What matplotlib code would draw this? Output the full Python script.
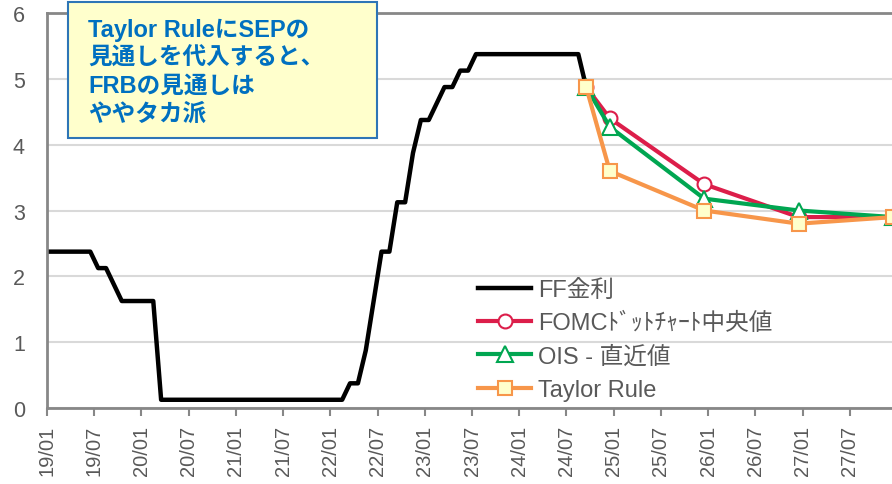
import numpy as np
import matplotlib.pyplot as plt
from matplotlib.patches import Rectangle

plt.rcParams['font.family'] = ['Liberation Sans', 'Noto Sans CJK JP', 'DejaVu Sans']

# FF rate, month-end midpoint, 2019/01 .. 2024/09
ff_start = "2019-01"
ff_rate = ([2.375] * 6 + [2.125, 2.125, 1.875, 1.625, 1.625, 1.625]
           + [1.625, 1.625] + [0.125] * 10
           + [0.125] * 12
           + [0.125, 0.125, 0.375, 0.375, 0.875, 1.625, 2.375, 2.375, 3.125, 3.125, 3.875, 4.375]
           + [4.375, 4.625, 4.875, 4.875, 5.125, 5.125] + [5.375] * 6
           + [5.375] * 8 + [4.875])

proj_dates = ["2024-09", "2024-12", "2025-12", "2026-12", "2027-12"]
fomc_dots = [4.875, 4.4, 3.4, 2.9, 2.9]
ois_latest = [4.875, 4.27, 3.18, 3.0, 2.9]
taylor_rule = [4.875, 3.6, 3.0, 2.8, 2.9]

tick_labels = ["19/01", "19/07", "20/01", "20/07", "21/01", "21/07", "22/01", "22/07",
               "23/01", "23/07", "24/01", "24/07", "25/01", "25/07", "26/01", "26/07",
               "27/01", "27/07"]

series_names = ["FF金利", "FOMCﾄﾞｯﾄﾁｬｰﾄ中央値", "OIS - 直近値", "Taylor Rule"]
note = "Taylor RuleにSEPの\n見通しを代入すると、\nFRBの見通しは\nややタカ派"


def month_index(s):
    y, m = s.split("-")
    return (int(y) - 2019) * 12 + int(m) - 1


# month-end values sit in the middle of each month slot
ff_x = month_index(ff_start) + np.arange(len(ff_rate)) + 0.5
proj_x = np.array([month_index(d) for d in proj_dates]) + 0.5

W, H = 892, 485
fig = plt.figure(figsize=(W / 100, H / 100), dpi=100)
ax = fig.add_axes([47 / W, 76 / H, 854 / W, 395 / H])

gray = "#878787"
text_gray = "#595959"

ax.plot(ff_x, ff_rate, color="black", lw=3.2, label=series_names[0], zorder=3)
ax.plot(proj_x, fomc_dots, color="#DC1E4A", lw=3, marker="o", ms=10,
        mfc="white", mec="#DC1E4A", mew=1.5, label=series_names[1], zorder=4)
ax.plot(proj_x, ois_latest, color="#00A651", lw=3, marker="^", ms=11,
        mfc="white", mec="#00A651", mew=1.5, label=series_names[2], zorder=5)
ax.plot(proj_x, taylor_rule, color="#F7964A", lw=3, marker="s", ms=10,
        mfc="#FFFFCC", mec="#F7964A", mew=1.5, label=series_names[3], zorder=6)

ax.set_xlim(0, 108.5)
ax.set_ylim(0, 6)
ax.set_xticks(np.arange(len(tick_labels)) * 6)
ax.set_xticklabels(tick_labels, rotation=90, fontsize=14.5, color=text_gray)
ax.set_yticks(range(7))
ax.set_yticklabels([str(v) for v in range(7)], fontsize=15.5, color=text_gray)
ax.tick_params(axis="x", length=6, width=1.5, color=gray, pad=6)
ax.tick_params(axis="y", length=0, pad=16)

ax.grid(axis="y", color="#D9D9D9", lw=1.5)
ax.set_axisbelow(True)
for side in ["left", "bottom", "top"]:
    ax.spines[side].set_color(gray)
    ax.spines[side].set_linewidth(2)
ax.spines["right"].set_visible(False)

leg = ax.legend(loc="upper left", bbox_to_anchor=(478 / W, 205 / H),
                bbox_transform=fig.transFigure, frameon=False, fontsize=17,
                handlelength=2.25, handletextpad=0.3, labelspacing=0.47,
                borderpad=0, borderaxespad=0)
for t in leg.get_texts():
    t.set_color(text_gray)

# note box in the upper left
fig.patches.append(Rectangle((68 / W, 1 - 139 / H), 309 / W, 136 / H,
                             transform=fig.transFigure, facecolor="#FFFFCC",
                             edgecolor="#2E75B6", lw=1.5, zorder=10))
fig.text(88 / W, 1 - 19 / H, note, ha="left", va="top", fontsize=17,
         fontweight="bold", color="#0070C0", linespacing=1.27, zorder=11)

fig.savefig("out.png", dpi=100)
